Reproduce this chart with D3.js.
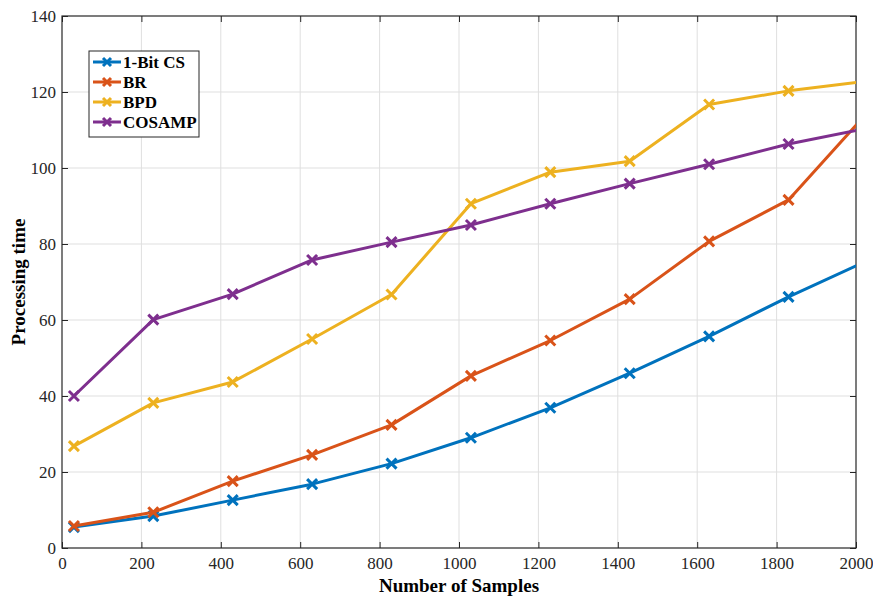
<!DOCTYPE html>
<html>
<head>
<meta charset="utf-8">
<script src="https://cdn.jsdelivr.net/npm/d3@7"></script>
<style>
  html, body { margin: 0; padding: 0; background: #fff; }
  svg { display: block; }
</style>
</head>
<body>
<svg id="chart" width="873" height="599"></svg>
<script>
// Sample counts at which each method was timed
const samples = [30, 230, 430, 630, 830, 1030, 1230, 1430, 1630, 1830, 2030];

// Processing time per method
const oneBitCS = [5.5, 8.4, 12.6, 16.8, 22.2, 29.0, 36.9, 46.0, 55.7, 66.1, 75.7];
const br       = [5.8, 9.4, 17.6, 24.5, 32.4, 45.3, 54.6, 65.5, 80.7, 91.6, 114.7];
const bpd      = [26.8, 38.2, 43.7, 55.0, 66.7, 90.6, 98.9, 101.8, 116.7, 120.3, 122.9];
const cosamp   = [40.0, 60.1, 66.8, 75.8, 80.5, 85.0, 90.6, 95.9, 101.0, 106.3, 110.5];

const seriesNames = ["1-Bit CS", "BR", "BPD", "COSAMP"];
const seriesValues = [oneBitCS, br, bpd, cosamp];
const seriesColors = ["#0072BD", "#D95319", "#EDB120", "#7E2F8E"];

const xTicks = [0, 200, 400, 600, 800, 1000, 1200, 1400, 1600, 1800, 2000];
const yTicks = [0, 20, 40, 60, 80, 100, 120, 140];

const xLabel = "Number of Samples";
const yLabel = "Processing time";

const svg = d3.select("#chart");
const margin = { left: 62, right: 17, top: 16, bottom: 51 };
const W = 873, H = 599;
const x0 = margin.left, x1 = W - margin.right;
const y0 = H - margin.bottom, y1 = margin.top;

const x = d3.scaleLinear().domain([0, 2000]).range([x0, x1]);
const y = d3.scaleLinear().domain([0, 140]).range([y0, y1]);

const font = "'Liberation Serif', 'Times New Roman', serif";
const axisColor = "#262626";

// Clip region for the plotted lines
svg.append("defs").append("clipPath").attr("id", "plotClip")
  .append("rect").attr("x", x0).attr("y", y1).attr("width", x1 - x0).attr("height", y0 - y1);

// Grid
const grid = svg.append("g");
grid.selectAll(".gx").data(xTicks.slice(1, -1)).join("line")
  .attr("x1", d => x(d)).attr("x2", d => x(d)).attr("y1", y0).attr("y2", y1)
  .attr("stroke", "#dfdfdf").attr("stroke-width", 1);
grid.selectAll(".gy").data(yTicks.slice(1, -1)).join("line")
  .attr("x1", x0).attr("x2", x1).attr("y1", d => y(d)).attr("y2", d => y(d))
  .attr("stroke", "#dfdfdf").attr("stroke-width", 1);

// Axes (ticks drawn inward, MATLAB box style)
const tickLen = 6;
const xAxis = d3.axisBottom(x).tickValues(xTicks).tickSize(-tickLen).tickPadding(9).tickFormat(d3.format("d"));
const yAxis = d3.axisLeft(y).tickValues(yTicks).tickSize(-tickLen).tickPadding(6).tickFormat(d3.format("d"));
const xTop = d3.axisTop(x).tickValues(xTicks).tickSize(-tickLen).tickFormat("");
const yRight = d3.axisRight(y).tickValues(yTicks).tickSize(-tickLen).tickFormat("");

function styleAxis(g) {
  g.selectAll("path").remove();
  g.selectAll("line").attr("stroke", axisColor).attr("stroke-width", 1);
  g.selectAll("text").attr("fill", axisColor).style("font-family", font).style("font-size", "17px");
}

svg.append("g").attr("transform", `translate(0,${y0})`).call(xAxis).call(styleAxis);
svg.append("g").attr("transform", `translate(${x0},0)`).call(yAxis).call(styleAxis);
svg.append("g").attr("transform", `translate(0,${y1})`).call(xTop).call(styleAxis);
svg.append("g").attr("transform", `translate(${x1},0)`).call(yRight).call(styleAxis);

// Box
svg.append("rect").attr("x", x0).attr("y", y1).attr("width", x1 - x0).attr("height", y0 - y1)
  .attr("fill", "none").attr("stroke", axisColor).attr("stroke-width", 1.2);

// Lines and markers
const line = d3.line().x((d, i) => x(samples[i])).y(d => y(d));
const plot = svg.append("g").attr("clip-path", "url(#plotClip)");

function cross(g, cx, cy, color, s) {
  g.append("path")
    .attr("d", `M${cx - s},${cy - s}L${cx + s},${cy + s}M${cx - s},${cy + s}L${cx + s},${cy - s}`)
    .attr("stroke", color).attr("stroke-width", 3).attr("fill", "none").attr("stroke-linecap", "butt");
}

seriesValues.forEach((vals, k) => {
  plot.append("path").datum(vals).attr("d", line)
    .attr("fill", "none").attr("stroke", seriesColors[k]).attr("stroke-width", 3)
    .attr("stroke-linejoin", "round");
  const mg = plot.append("g");
  vals.forEach((v, i) => {
    if (samples[i] <= 2000) cross(mg, x(samples[i]), y(v), seriesColors[k], 5);
  });
});

// Axis labels
svg.append("text").attr("x", (x0 + x1) / 2).attr("y", 592).attr("text-anchor", "middle")
  .style("font-family", font).style("font-size", "19px").style("font-weight", "bold")
  .attr("fill", "#000").text(xLabel);
svg.append("text").attr("transform", `translate(25,${(y0 + y1) / 2}) rotate(-90)`)
  .attr("text-anchor", "middle")
  .style("font-family", font).style("font-size", "19px").style("font-weight", "bold")
  .attr("fill", "#000").text(yLabel);

// Legend
const lg = svg.append("g");
lg.append("rect").attr("x", 89).attr("y", 51).attr("width", 110).attr("height", 86)
  .attr("fill", "#fff").attr("stroke", axisColor).attr("stroke-width", 1);
seriesNames.forEach((name, k) => {
  const ly = 62 + k * 20;
  lg.append("line").attr("x1", 93).attr("x2", 121).attr("y1", ly).attr("y2", ly)
    .attr("stroke", seriesColors[k]).attr("stroke-width", 3);
  cross(lg, 107, ly, seriesColors[k], 4);
  lg.append("text").attr("x", 123).attr("y", ly + 6)
    .style("font-family", font).style("font-size", "17px").style("font-weight", "bold")
    .attr("fill", "#000").text(name);
});
</script>
</body>
</html>
